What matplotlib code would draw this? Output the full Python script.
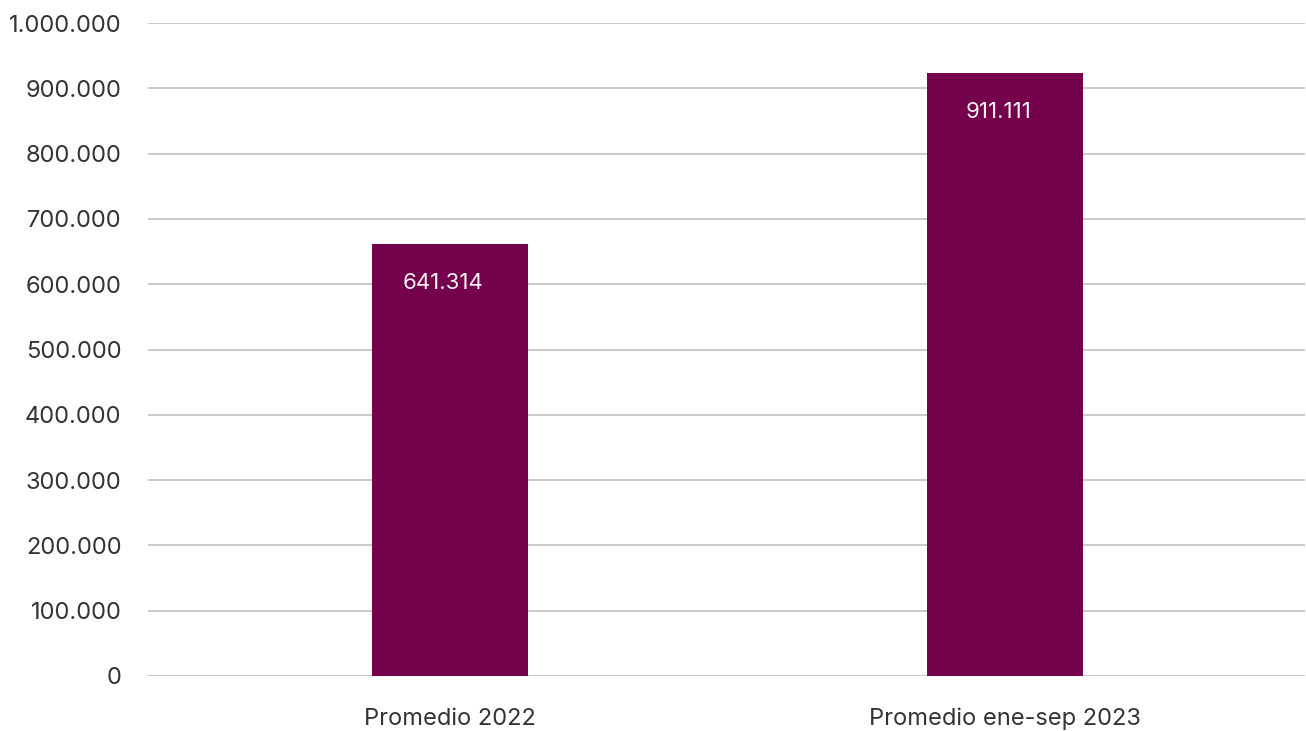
import matplotlib
matplotlib.use("Agg")
import matplotlib.pyplot as plt
from matplotlib.ticker import FuncFormatter

categories = ["Promedio 2022", "Promedio ene-sep 2023"]
bar_values = [661600, 923400]
bar_labels = ["641.314", "911.111"]
yticks = [0, 100000, 200000, 300000, 400000, 500000, 600000, 700000, 800000, 900000, 1000000]

plt.rcParams['font.family'] = ['Inter', 'DejaVu Sans']

fig = plt.figure(figsize=(13.06, 7.31), dpi=100)
ax = fig.add_axes([148/1306, 1 - 676/731, (1305-148)/1306, (676-23)/731])

x = list(range(len(categories)))
bars = ax.bar(x, bar_values, width=0.281, color="#75004c", zorder=3)
for b, lab in zip(bars, bar_labels):
    ax.annotate(lab, (b.get_x() + b.get_width()/2, b.get_height()),
                xytext=(-5, -28), textcoords="offset points",
                ha="center", va="center", color="#f2f2f2", fontsize=16, zorder=4)

ax.set_xlim(-0.545, 1.54)
ax.set_ylim(0, 1000000)
ax.set_yticks(yticks)
ax.yaxis.set_major_formatter(FuncFormatter(lambda v, p: f"{int(v):,}".replace(",", ".")))
ax.set_xticks(x)
ax.set_xticklabels(categories)
ax.grid(axis="y", color="#c6c6c6", linewidth=1.3, zorder=0)
ax.set_axisbelow(True)
for s in ax.spines.values():
    s.set_visible(False)
ax.tick_params(axis="both", length=0, labelsize=17, labelcolor="#333333")
ax.tick_params(axis="y", pad=19)
ax.tick_params(axis="x", pad=23)

fig.savefig("out.png", dpi=100)
